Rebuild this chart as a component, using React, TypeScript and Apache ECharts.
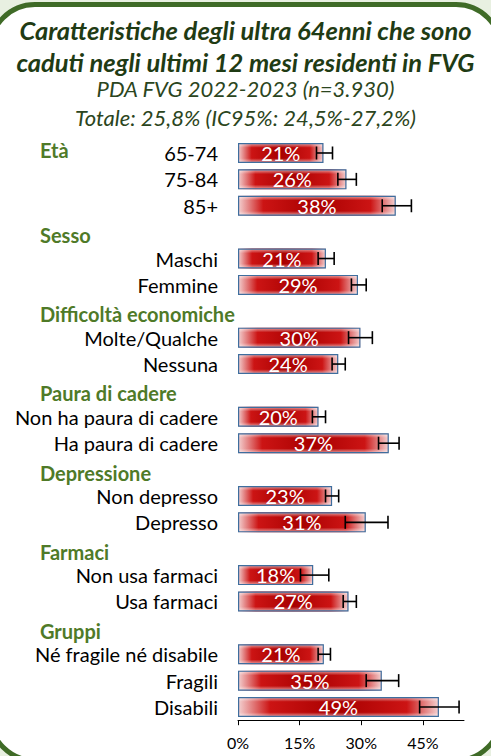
import React, { useEffect, useRef } from "react";
import * as echarts from "echarts";

// ---- data ----
const rowKeys = [
  "65-74", "75-84", "85+", "h-sesso", "Maschi", "Femmine", "h-diff", "Molte/Qualche", "Nessuna",
  "h-paura", "Non ha paura di cadere", "Ha paura di cadere", "h-dep", "Non depresso", "Depresso",
  "h-farm", "Non usa farmaci", "Usa farmaci", "h-gruppi", "Né fragile né disabile", "Fragili", "Disabili",
];
const headerLabels = ["Età", "", "", "Sesso", "", "", "Difficoltà economiche", "", "", "Paura di cadere", "", "",
  "Depressione", "", "", "Farmaci", "", "", "Gruppi", "", "", ""];
const values = [20.8, 26.4, 38.4, null, 21.4, 29.2, null, 29.8, 24.4, null, 19.6, 36.7, null, 22.9, 31.1,
  null, 18.3, 26.9, null, 20.9, 35.0, 48.9];
const ciLow = [19.1, 24.3, 35.1, null, 19.5, 27.6, null, 26.9, 22.9, null, 18.1, 34.2, null, 21.3, 26.1,
  null, 15.2, 25.6, null, 19.5, 31.2, 44.2];
const ciHigh = [23.0, 28.8, 42.2, null, 23.4, 31.2, null, 32.7, 26.1, null, 21.3, 39.2, null, 24.5, 36.5,
  null, 22.1, 28.8, null, 22.5, 39.1, 53.8];
const xTicks = [0, 15, 30, 45];

const titleText = "Caratteristiche degli ultra 64enni che sono\ncaduti negli ultimi 12 mesi residenti in FVG";
const subText = "PDA FVG 2022-2023 (n=3.930)\nTotale: 25,8% (IC95%: 24,5%-27,2%)";

const FONT = "Lato";

export default function App() {
  const ref = useRef<HTMLDivElement>(null);
  useEffect(() => {
    if (!ref.current) return;
    const chart = echarts.init(ref.current, null, { renderer: "svg" });
    const errData: any[] = [];
    rowKeys.forEach((k, i) => {
      if (ciLow[i] != null) errData.push([i, ciLow[i], ciHigh[i]]);
    });
    const option: any = {
      animation: false,
      backgroundColor: "#e8f0e1",
      textStyle: { fontFamily: FONT },
      graphic: [
        {
          type: "rect",
          z: -10,
          silent: true,
          shape: { x: -10, y: 4.5, width: 511, height: 756, r: 45 },
          style: { fill: "#ffffff", stroke: "#3f6b27", lineWidth: 5 },
        },
      ],
      title: {
        text: titleText,
        subtext: subText,
        left: "center",
        top: 14,
        padding: 0,
        itemGap: -4,
        textStyle: {
          fontFamily: FONT,
          fontSize: 25.5,
          fontWeight: "bold",
          fontStyle: "italic",
          color: "#1f3b14",
          lineHeight: 32,
        },
        subtextStyle: {
          fontFamily: FONT,
          fontSize: 22,
          fontStyle: "italic",
          color: "#2b4520",
          lineHeight: 29,
        },
      },
      grid: { left: 238, right: 27, top: 139.8, bottom: 35.8, containLabel: false },
      xAxis: {
        type: "value",
        min: 0,
        max: 55,
        splitLine: { show: false },
        axisLine: { show: true, lineStyle: { color: "#000", width: 1 } },
        axisTick: { show: true, customValues: xTicks, length: 5, lineStyle: { color: "#000" } },
        axisLabel: {
          customValues: xTicks,
          formatter: "{value}%",
          fontFamily: FONT,
          fontSize: 16,
          color: "#000",
          margin: 14,
        },
      },
      yAxis: [
        {
          type: "category",
          inverse: true,
          data: rowKeys,
          axisLine: { show: false },
          axisTick: { show: false },
          axisLabel: {
            interval: 0,
            margin: 20,
            fontFamily: FONT,
            fontSize: 20,
            color: "#000",
            formatter: (v: string) => (v.startsWith("h-") ? "" : v),
          },
        },
        {
          type: "category",
          inverse: true,
          position: "left",
          data: rowKeys,
          axisLine: { show: false },
          axisTick: { show: false },
          axisLabel: {
            interval: 0,
            margin: 198,
            align: "left",
            formatter: (v: string, i: number) => {
              const h = headerLabels[i];
              if (!h) return "";
              return i === 0 ? `{e|${h}}` : `{h|${h}}`;
            },
            rich: {
              e: { fontFamily: FONT, fontSize: 20, fontWeight: "bold", color: "#4f7a28", padding: [0, 0, 6, 0] },
              h: { fontFamily: FONT, fontSize: 20, fontWeight: "bold", color: "#4f7a28", padding: [6, 0, 0, 0] },
            },
          },
        },
      ],
      series: [
        {
          type: "bar",
          yAxisIndex: 0,
          data: values,
          barWidth: 20,
          itemStyle: {
            color: new echarts.graphic.LinearGradient(0, 0, 1, 0, [
              { offset: 0, color: "#f4d3d3" },
              { offset: 0.16, color: "#cc1414" },
              { offset: 0.5, color: "#a80000" },
              { offset: 0.84, color: "#cc1414" },
              { offset: 1, color: "#f4d3d3" },
            ]),
          },
        },
        {
          type: "bar",
          yAxisIndex: 0,
          data: values,
          barWidth: 20,
          barGap: "-100%",
          itemStyle: {
            color: new echarts.graphic.LinearGradient(0, 0, 0, 1, [
              { offset: 0, color: "rgba(255,255,255,0.55)" },
              { offset: 0.22, color: "rgba(255,255,255,0)" },
              { offset: 0.78, color: "rgba(255,255,255,0)" },
              { offset: 1, color: "rgba(255,255,255,0.55)" },
            ]),
            borderColor: "#3e6e9e",
            borderWidth: 1.2,
          },
          label: {
            show: true,
            position: "inside",
            color: "#fff",
            fontFamily: FONT,
            fontSize: 20,
            formatter: (p: any) => `${Math.round(p.value)}%`,
          },
        },
        {
          type: "custom",
          yAxisIndex: 0,
          data: errData,
          encode: { x: [1, 2], y: 0 },
          z: 5,
          renderItem: (params: any, api: any) => {
            const cat = api.value(0);
            const lo = api.coord([api.value(1), cat]);
            const hi = api.coord([api.value(2), cat]);
            const h = 6.5;
            const st = { stroke: "#000", lineWidth: 1.6 };
            return {
              type: "group",
              children: [
                { type: "line", shape: { x1: lo[0], y1: lo[1], x2: hi[0], y2: hi[1] }, style: st },
                { type: "line", shape: { x1: lo[0], y1: lo[1] - h, x2: lo[0], y2: lo[1] + h }, style: st },
                { type: "line", shape: { x1: hi[0], y1: hi[1] - h, x2: hi[0], y2: hi[1] + h }, style: st },
              ],
            };
          },
        },
      ],
    };
    chart.setOption(option);
    return () => chart.dispose();
  }, []);
  return (
    <div
      ref={ref}
      style={{ position: "fixed", left: 0, top: 0, width: 491, height: 756 }}
    />
  );
}
